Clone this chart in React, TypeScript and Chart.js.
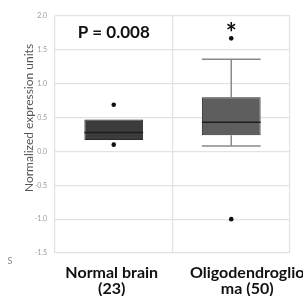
import React, { useEffect, useRef } from "react";
import { Chart, registerables } from "chart.js";

Chart.register(...registerables);

const categories = ["Normal brain", "Oligodendroglioma"];
const labelLines = [
  ["Normal brain", "(23)"],
  ["Oligodendroglio", "ma (50)"],
];
const q1 = [0.17, 0.24];
const medians = [0.28, 0.43];
const q3 = [0.47, 0.8];
const whiskerLow = [0.17, 0.08];
const whiskerHigh = [0.47, 1.36];
const outliers = [
  [0.69, 0.1],
  [1.67, -1.0],
];
const boxColors = ["#3c3c3c", "#5e5e5e"];
const pValueText = "P = 0.008";
const starText = "*";
const yTitle = "Normalized expression units";
const yMin = -1.5;
const yMax = 2.0;
const yStep = 0.5;

const overlayPlugin = {
  id: "boxOverlay",
  afterDatasetsDraw(chart: any) {
    const ctx = chart.ctx;
    const xs = chart.scales.x;
    const ys = chart.scales.y;
    const meta = chart.getDatasetMeta(0);
    ctx.save();
    categories.forEach((_, i) => {
      const cx = xs.getPixelForValue(i);
      const bar = meta.data[i];
      const hw = bar ? bar.width / 2 : 29;
      ctx.strokeStyle = "#8a8a8a";
      ctx.lineWidth = 1.5;
      const yq3 = ys.getPixelForValue(q3[i]);
      const yq1 = ys.getPixelForValue(q1[i]);
      const yHi = ys.getPixelForValue(whiskerHigh[i]);
      const yLo = ys.getPixelForValue(whiskerLow[i]);
      if (whiskerHigh[i] > q3[i]) {
        ctx.beginPath();
        ctx.moveTo(cx, yq3);
        ctx.lineTo(cx, yHi);
        ctx.moveTo(cx - hw, yHi);
        ctx.lineTo(cx + hw, yHi);
        ctx.stroke();
      }
      if (whiskerLow[i] < q1[i]) {
        ctx.beginPath();
        ctx.moveTo(cx, yq1);
        ctx.lineTo(cx, yLo);
        ctx.moveTo(cx - hw, yLo);
        ctx.lineTo(cx + hw, yLo);
        ctx.stroke();
      }
      ctx.strokeStyle = "#1e1e1e";
      ctx.lineWidth = 1.5;
      const ym = ys.getPixelForValue(medians[i]);
      ctx.beginPath();
      ctx.moveTo(cx - hw, ym);
      ctx.lineTo(cx + hw, ym);
      ctx.stroke();
    });

    ctx.fillStyle = "#111";
    ctx.textAlign = "center";
    ctx.textBaseline = "alphabetic";
    ctx.font = "bold 17px Lato";
    ctx.fillText(pValueText, xs.getPixelForValue(0), ys.getPixelForValue(1.68));
    ctx.font = "bold 26px Lato";
    ctx.fillText(starText, xs.getPixelForValue(1), ys.getPixelForValue(1.63) + 1);

    const shifts = [-2, 16];
    ctx.font = "bold 16px Lato";
    ctx.fillStyle = "#111";
    labelLines.forEach((lines, i) => {
      const cx = xs.getPixelForValue(i) + shifts[i];
      lines.forEach((t, j) => {
        ctx.fillText(t, cx, chart.chartArea.bottom + 25 + j * 16);
      });
    });

    ctx.save();
    ctx.translate(29, 118);
    ctx.rotate(-Math.PI / 2);
    ctx.font = "12px Lato";
    ctx.fillStyle = "#555";
    ctx.textBaseline = "middle";
    ctx.fillText(yTitle, 0, 0);
    ctx.restore();

    ctx.font = "9px Lato";
    ctx.fillStyle = "#888";
    ctx.textAlign = "center";
    ctx.textBaseline = "middle";
    ctx.fillText("S", 10, 261);
    ctx.restore();
  },
};

export default function App() {
  const ref = useRef<HTMLCanvasElement | null>(null);
  useEffect(() => {
    document.body.style.margin = "0";
    const outlierPoints: { x: string; y: number }[] = [];
    outliers.forEach((arr, i) => arr.forEach((v) => outlierPoints.push({ x: categories[i], y: v })));
    const chart = new Chart(ref.current as HTMLCanvasElement, {
      type: "bar",
      data: {
        labels: categories,
        datasets: [
          {
            type: "bar",
            data: categories.map((_, i) => [q1[i], q3[i]]) as any,
            backgroundColor: boxColors,
            borderColor: "#2a2a2a",
            borderWidth: 1,
            borderSkipped: false,
            barPercentage: 0.5,
            categoryPercentage: 1,
          } as any,
          {
            type: "line",
            data: outlierPoints as any,
            showLine: false,
            pointRadius: 2.3,
            pointBackgroundColor: "#111",
            pointBorderWidth: 0,
            borderColor: "#111",
          } as any,
        ],
      },
      options: {
        animation: false,
        responsive: true,
        maintainAspectRatio: false,
        layout: { padding: { top: 16, right: 13, left: 0, bottom: 0 } },
        plugins: { legend: { display: false }, tooltip: { enabled: false } },
        scales: {
          x: {
            type: "category",
            offset: true,
            grid: { offset: true, color: "#e2e2e2", drawTicks: false, lineWidth: 1.2 },
            border: { display: false },
            ticks: { display: false },
            afterFit: (s: any) => {
              s.height = 43;
            },
          },
          y: {
            min: yMin,
            max: yMax,
            grid: { color: "#e2e2e2", drawTicks: false, lineWidth: 1.2 },
            border: { display: false },
            ticks: {
              stepSize: yStep,
              padding: 8,
              color: "#9a9a9a",
              font: { size: 7, family: "Lato" },
              callback: (v: any) => Number(v).toFixed(1),
            },
            afterFit: (s: any) => {
              s.width = 55;
            },
          },
        },
      },
      plugins: [overlayPlugin],
    });
    return () => chart.destroy();
  }, []);
  return (
    <div style={{ position: "absolute", left: 0, top: 0, width: 303, height: 296 }}>
      <canvas ref={ref} />
    </div>
  );
}
